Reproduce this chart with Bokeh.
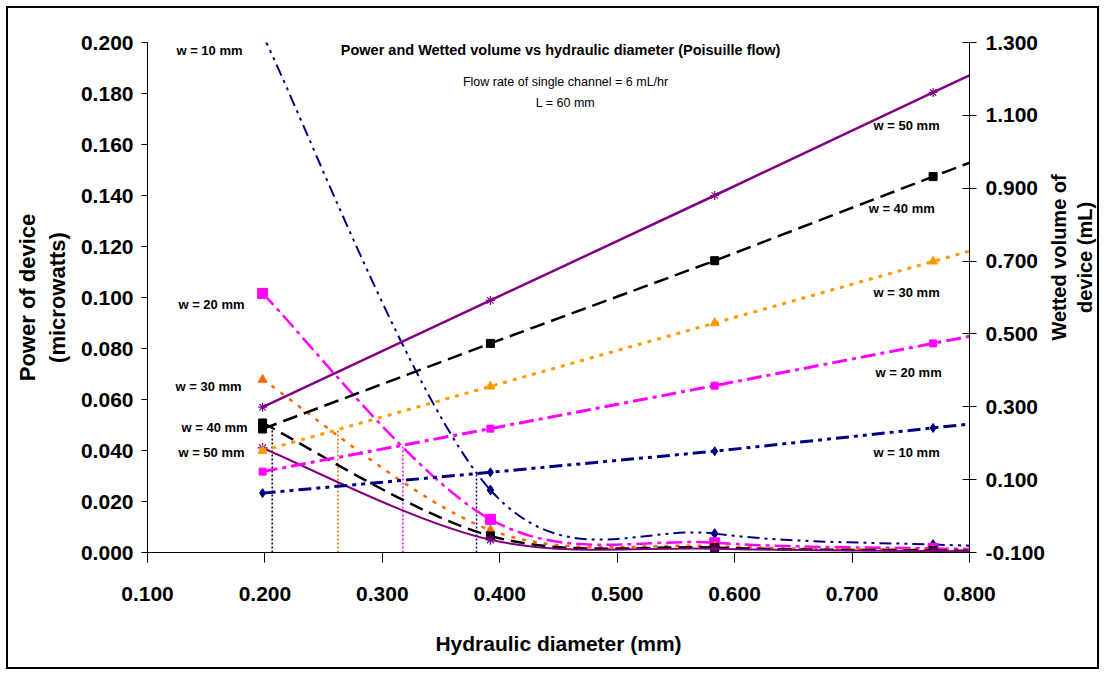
import math
from bokeh.plotting import figure
from bokeh.layouts import column
from bokeh.models import (Range1d, LinearAxis, FixedTicker, NumeralTickFormatter, Label)
from bokeh.embed import file_html
from bokeh.resources import INLINE

# Hydraulic diameter (mm) for channel depths 0.1 ... 0.5 mm
diameter = [0.198, 0.392, 0.583, 0.769, 0.952]

# Power of device (microwatts), one list per channel width
power_w10 = [0.203, 0.0245, 0.0074, 0.0031, 0.0016]
power_w20 = [0.1016, 0.0130, 0.0038, 0.0016, 0.0008]
power_w30 = [0.0678, 0.0088, 0.0025, 0.0011, 0.00055]
power_w40 = [0.0508, 0.0065, 0.0019, 0.0008, 0.0004]
power_w50 = [0.0410, 0.0050, 0.0015, 0.0006, 0.0003]

# Wetted volume of device (mL)
volume_w10 = [0.063, 0.120, 0.178, 0.242, 0.305]
volume_w20 = [0.122, 0.240, 0.358, 0.474, 0.588]
volume_w30 = [0.179, 0.356, 0.530, 0.699, 0.866]
volume_w40 = [0.239, 0.474, 0.701, 0.932, 1.155]
volume_w50 = [0.299, 0.592, 0.880, 1.163, 1.440]

# Where power and volume curves of the same width cross (w = 40, 30, 20, 10)
cross_diameter = [0.2062, 0.2621, 0.3175, 0.3802]
cross_power = [0.0499, 0.0482, 0.0421, 0.0311]

x_ticks = [0.1, 0.2, 0.3, 0.4, 0.5, 0.6, 0.7, 0.8]
power_ticks = [0.0, 0.02, 0.04, 0.06, 0.08, 0.10, 0.12, 0.14, 0.16, 0.18, 0.20]
volume_ticks = [-0.1, 0.1, 0.3, 0.5, 0.7, 0.9, 1.1, 1.3]

FONT = "'Liberation Sans', Arial, sans-serif"

p = figure(width=1089, height=659, output_backend="svg", toolbar_location=None,
           x_range=Range1d(0.1, 0.8), y_range=Range1d(0.0, 0.2),
           min_border_left=139, min_border_right=128, min_border_top=34,
           min_border_bottom=115, background_fill_color="white",
           border_fill_color="white", outline_line_color=None)
p.extra_y_ranges = {"vol": Range1d(-0.1, 1.3)}
p.xgrid.visible = False
p.ygrid.visible = False


def style_axis(ax):
    ax.axis_line_color = "black"
    ax.axis_line_width = 1
    ax.major_tick_line_color = "black"
    ax.minor_tick_line_color = None
    ax.major_label_text_font = FONT
    ax.major_label_text_font_style = "bold"
    ax.major_label_text_font_size = "21px"
    ax.major_label_text_color = "black"
    ax.axis_label_text_font = FONT
    ax.axis_label_text_font_style = "bold"
    ax.axis_label_text_color = "black"


# bottom axis
xa = p.xaxis[0]
style_axis(xa)
xa.ticker = FixedTicker(ticks=x_ticks)
xa.formatter = NumeralTickFormatter(format="0.000")
xa.major_tick_out = 10
xa.major_tick_in = 0
xa.major_label_standoff = 24
xa.axis_label = "Hydraulic diameter (mm)"
xa.axis_label_text_font_size = "21px"
xa.axis_label_standoff = 28

# left axis: power
ya = p.yaxis[0]
style_axis(ya)
ya.ticker = FixedTicker(ticks=power_ticks)
ya.formatter = NumeralTickFormatter(format="0.000")
ya.major_tick_out = 6
ya.major_tick_in = 0
ya.major_label_standoff = 8
ya.axis_label = "Power of device\n(microwatts)"
ya.axis_label_text_font_size = "22px"
ya.axis_label_standoff = 8

# right axis: wetted volume
ra = LinearAxis(y_range_name="vol")
style_axis(ra)
ra.ticker = FixedTicker(ticks=volume_ticks)
ra.formatter = NumeralTickFormatter(format="0.000")
ra.major_tick_out = 7
ra.major_tick_in = 7
ra.major_label_standoff = 9
p.add_layout(ra, "right")

# right-hand title, reading upwards, in its own side panel beyond the tick labels
p.add_layout(Label(x=0.8875, y=0.1157, text="Wetted volume of\ndevice (mL)",
                   angle=math.pi / 2, text_font=FONT, text_font_size="20px",
                   text_font_style="bold", text_align="center",
                   text_baseline="middle", text_color="black"), "right")


def smooth(xs, ys):
    """Bezier pieces of a smoothed line through the points (1/6 tangent rule)."""
    px = [xs[0]] + list(xs) + [xs[-1]]
    py = [ys[0]] + list(ys) + [ys[-1]]
    seg = {k: [] for k in ("x0", "y0", "x1", "y1", "cx0", "cy0", "cx1", "cy1")}
    for i in range(len(xs) - 1):
        a, b, c, d = i, i + 1, i + 2, i + 3
        seg["x0"].append(px[b]); seg["y0"].append(py[b])
        seg["x1"].append(px[c]); seg["y1"].append(py[c])
        seg["cx0"].append(px[b] + (px[c] - px[a]) / 6)
        seg["cy0"].append(py[b] + (py[c] - py[a]) / 6)
        seg["cx1"].append(px[c] - (px[d] - px[b]) / 6)
        seg["cy1"].append(py[c] - (py[d] - py[b]) / 6)
    return seg


NAVY = "#000080"
MAGENTA = "#FF00FF"
AMBER = "#FF9900"
ORANGE = "#FF6600"
PURPLE = "#800080"

# drop lines from the crossing points
for xc, yc, col in zip(cross_diameter, cross_power, ["black", ORANGE, MAGENTA, NAVY]):
    p.segment(x0=[xc], y0=[0.0], x1=[xc], y1=[yc], line_color=col,
              line_width=1.5, line_dash="2 2")

# power curves (left axis), smoothed
power_styles = [
    (power_w10, NAVY, "12 5 3 5 3 5", 2, "diamond", 10),
    (power_w20, MAGENTA, "16 5 4 5", 2.5, "square", 10),
    (power_w30, ORANGE, "4 7", 2.5, "triangle", 9),
    (power_w40, "black", "14 7", 2.5, "square", 8),
    (power_w50, PURPLE, "solid", 2, "asterisk", 10),
]
for vals, col, dash, lw, mk, ms in power_styles:
    p.bezier(**smooth(diameter, vals), line_color=col, line_width=lw, line_dash=dash)
    if mk == "asterisk":
        p.scatter(diameter, vals, marker=mk, size=ms, line_color=col, line_width=1.2)
    else:
        p.scatter(diameter, vals, marker=mk, size=ms, fill_color=col, line_color=col)

# volume lines (right axis)
volume_styles = [
    (volume_w10, NAVY, "13 5 4 5 4 5", 3, "diamond", 9),
    (volume_w20, MAGENTA, "15 5 4 5", 3, "square", 7),
    (volume_w30, AMBER, "4 6", 3, "triangle", 9),
    (volume_w40, "black", "15 7", 2.5, "square", 8),
    (volume_w50, PURPLE, "solid", 2.5, "asterisk", 9),
]
for vals, col, dash, lw, mk, ms in volume_styles:
    p.line(diameter, vals, y_range_name="vol", line_color=col, line_width=lw,
           line_dash=dash)
    if mk == "asterisk":
        p.scatter(diameter, vals, y_range_name="vol", marker=mk, size=ms,
                  line_color=col, line_width=1.2)
    else:
        p.scatter(diameter, vals, y_range_name="vol", marker=mk, size=ms,
                  fill_color=col, line_color=col)


# chart texts
def note(x, y, text, size, bold=True):
    p.add_layout(Label(x=x, y=y, text=text, text_font=FONT,
                       text_font_size=size, text_font_style="bold" if bold else "normal",
                       text_align="center", text_baseline="middle", text_color="black"))


note(0.4518, 0.1969, "Power and Wetted volume vs hydraulic diameter (Poisuille flow)", "14.5px")
note(0.456, 0.1847, "Flow rate of single channel = 6 mL/hr", "12.5px", bold=False)
note(0.456, 0.1761, "L = 60 mm", "12.5px", bold=False)

for x, y, t in [(0.1528, 0.1969, "w = 10 mm"), (0.1545, 0.0973, "w = 20 mm"),
                (0.1520, 0.0651, "w = 30 mm"), (0.1571, 0.0490, "w = 40 mm"),
                (0.1545, 0.0392, "w = 50 mm"),
                (0.7465, 0.1675, "w = 50 mm"), (0.7423, 0.1349, "w = 40 mm"),
                (0.7465, 0.1020, "w = 30 mm"), (0.7482, 0.0706, "w = 20 mm"),
                (0.7465, 0.0392, "w = 10 mm")]:
    note(x, y, t, "13px")

# chart area with its black frame
page = column(p, margin=(6, 6, 6, 6), styles={"border": "2px solid black"})

open("out.html", "w").write(file_html(page, INLINE))
